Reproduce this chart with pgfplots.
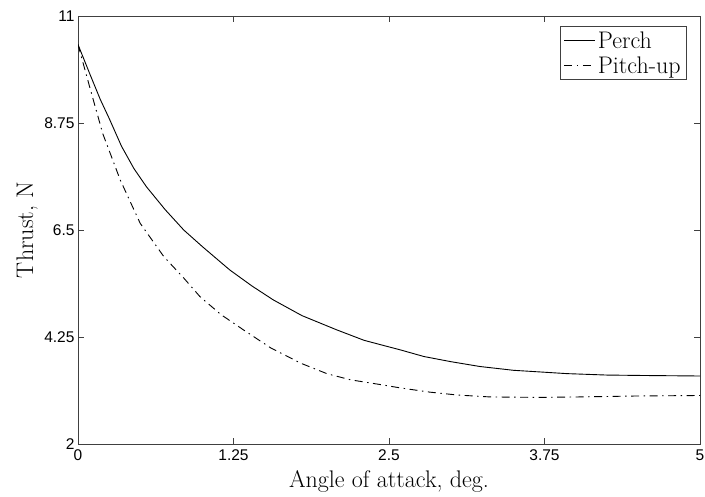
\documentclass[border=0pt]{standalone}
\usepackage{fontspec}
\newfontfamily\tickfont{Liberation Sans}
\usepackage{pgfplots}
\pgfplotsset{compat=1.18}
\begin{document}
\begin{tikzpicture}
\begin{axis}[
  scale only axis, width=622pt, height=428pt,
  xmin=0, xmax=5, ymin=2, ymax=11,
  xtick={0,1.25,2.5,3.75,5}, ytick={2,4.25,6.5,8.75,11},
  xticklabels={0,1.25,2.5,3.75,5}, yticklabels={2,4.25,6.5,8.75,11},
  tick align=inside, tick pos=both, major tick length=6pt,
  ticklabel style={font=\tickfont\fontsize{15.5}{18}\selectfont},
  xticklabel style={yshift=-2pt},
  axis line style={line width=0.8pt, black!75},
  tick style={line width=0.8pt, black!75},
  xlabel={Angle of attack, deg.}, ylabel={Thrust, N},
  label style={font=\fontsize{24}{28}\selectfont},
  xlabel style={at={(axis description cs:0.5,-0.1005)}, anchor=base},
  ylabel style={at={(axis description cs:-0.0723,0.5)}, anchor=base},
  legend cell align=left,
  legend image code/.code={\draw[#1] (0pt,0pt) -- (31pt,0pt);},
  legend style={at={(1,1)}, anchor=north east, xshift=-13pt, yshift=-10pt,
    font=\fontsize{24}{28}\selectfont, draw=black!75, line width=0.8pt,
    inner xsep=4pt, inner ysep=3pt, row sep=3pt, nodes={inner sep=2pt}},
]
\addplot[black, line width=0.9pt] coordinates {
(0,10.40) (0.1,9.75) (0.18,9.24) (0.25,8.85) (0.35,8.26) (0.45,7.79)
(0.55,7.41) (0.7,6.93) (0.85,6.50) (1.0,6.15) (1.22,5.66) (1.4,5.32)
(1.57,5.03) (1.8,4.70) (2.08,4.40) (2.3,4.18) (2.43,4.09) (2.59,3.98)
(2.78,3.84) (3.0,3.73) (3.23,3.63) (3.5,3.55) (3.93,3.48) (4.25,3.45)
(4.57,3.44) (5.0,3.43)
};
\addlegendentry{Perch}
\addplot[black, line width=0.9pt, dash pattern=on 8pt off 4.5pt on 1.5pt off 4.5pt] coordinates {
(0,10.40) (0.1,9.45) (0.2,8.52) (0.34,7.55) (0.5,6.64) (0.69,5.94)
(0.85,5.49) (0.98,5.10) (1.15,4.72) (1.33,4.40) (1.55,4.02) (1.79,3.70)
(2.0,3.48) (2.19,3.35) (2.43,3.25) (2.59,3.18) (2.83,3.09) (3.05,3.03)
(3.31,2.99) (3.7,2.98) (4.04,2.99) (4.5,3.01) (5.0,3.02)
};
\addlegendentry{Pitch-up}
\end{axis}
\pgfresetboundingbox
\path ([xshift=-78pt,yshift=-52pt]current axis.south west) rectangle ([xshift=5pt,yshift=16pt]current axis.north east);
\end{tikzpicture}
\end{document}
